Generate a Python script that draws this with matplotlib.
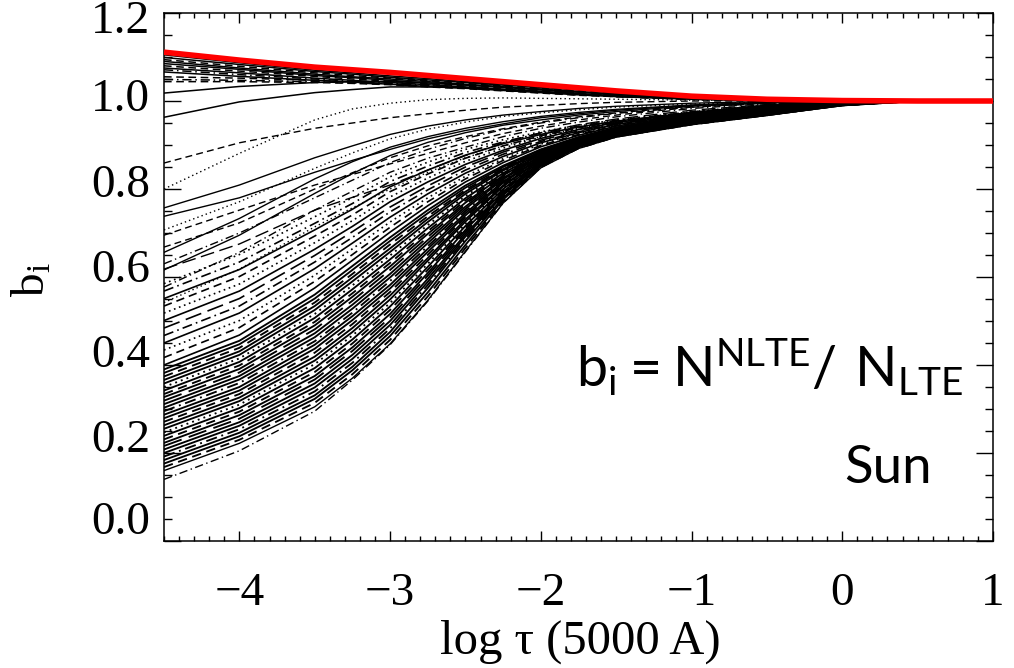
import matplotlib
matplotlib.use("Agg")
import matplotlib.pyplot as plt
from matplotlib.ticker import MultipleLocator

# ---------------- data ----------------
log_tau = [-4.5, -4.0, -3.5, -3.25, -3.0, -2.75, -2.5, -2.25, -2.0, -1.75, -1.5, -1.0, -0.5, 0.0, 0.5, 1.0]

red_curve = [1.111, 1.093, 1.077, 1.071, 1.065, 1.058, 1.051, 1.044, 1.037, 1.030, 1.023, 1.011, 1.004, 1.001, 1.000, 1.000]

top_group = [
    [1.105, 1.087, 1.070, 1.064, 1.057, 1.051, 1.044, 1.038, 1.032, 1.026, 1.020, 1.010, 1.004, 1.000, 1.000, 1.000],
    [1.099, 1.083, 1.067, 1.061, 1.054, 1.048, 1.042, 1.036, 1.031, 1.025, 1.019, 1.009, 1.003, 1.000, 1.000, 1.000],
    [1.094, 1.079, 1.064, 1.058, 1.052, 1.046, 1.040, 1.034, 1.029, 1.023, 1.017, 1.008, 1.003, 1.000, 1.000, 1.000],
    [1.090, 1.075, 1.061, 1.055, 1.050, 1.044, 1.038, 1.032, 1.027, 1.021, 1.016, 1.008, 1.002, 1.000, 1.000, 1.000],
    [1.085, 1.072, 1.058, 1.053, 1.047, 1.041, 1.036, 1.031, 1.025, 1.020, 1.015, 1.007, 1.002, 1.000, 1.000, 1.000],
    [1.080, 1.068, 1.056, 1.050, 1.045, 1.039, 1.034, 1.029, 1.024, 1.019, 1.014, 1.006, 1.002, 1.000, 1.000, 1.000],
    [1.075, 1.064, 1.052, 1.047, 1.042, 1.037, 1.032, 1.027, 1.022, 1.017, 1.012, 1.005, 1.001, 1.000, 1.000, 1.000],
    [1.071, 1.060, 1.050, 1.045, 1.040, 1.035, 1.031, 1.025, 1.020, 1.015, 1.011, 1.005, 1.001, 1.000, 1.000, 1.000],
    [1.066, 1.056, 1.047, 1.043, 1.038, 1.033, 1.029, 1.024, 1.019, 1.014, 1.010, 1.004, 1.001, 1.000, 1.000, 1.000],
    [1.055, 1.052, 1.047, 1.043, 1.039, 1.034, 1.030, 1.025, 1.020, 1.015, 1.010, 1.004, 1.001, 1.000, 1.000, 1.000],
    [1.049, 1.047, 1.044, 1.041, 1.038, 1.033, 1.029, 1.024, 1.019, 1.014, 1.010, 1.004, 1.001, 1.000, 1.000, 1.000],
    [1.044, 1.044, 1.042, 1.040, 1.037, 1.032, 1.028, 1.023, 1.018, 1.013, 1.010, 1.004, 1.001, 1.000, 1.000, 1.000],
    [1.018, 1.033, 1.042, 1.044, 1.044, 1.041, 1.037, 1.032, 1.027, 1.021, 1.015, 1.007, 1.002, 1.000, 1.000, 1.000],
    [0.963, 0.998, 1.019, 1.026, 1.032, 1.032, 1.030, 1.026, 1.021, 1.016, 1.011, 1.005, 1.001, 1.000, 1.000, 1.000],
]

mid_group = [
    [0.859, 0.905, 0.938, 0.950, 0.962, 0.971, 0.979, 0.986, 0.990, 0.994, 0.997, 1.000, 1.000, 1.000, 1.000, 1.000],
    [0.800, 0.881, 0.957, 0.982, 0.995, 1.003, 1.006, 1.007, 1.006, 1.005, 1.004, 1.002, 1.001, 1.000, 1.000, 1.000],
    [0.757, 0.809, 0.871, 0.898, 0.924, 0.943, 0.957, 0.968, 0.976, 0.983, 0.988, 0.995, 0.999, 1.000, 1.000, 1.000],
    [0.738, 0.780, 0.838, 0.865, 0.890, 0.914, 0.933, 0.948, 0.962, 0.971, 0.979, 0.990, 0.997, 1.000, 1.000, 1.000],
    [0.707, 0.771, 0.847, 0.882, 0.914, 0.936, 0.952, 0.965, 0.973, 0.980, 0.986, 0.993, 0.998, 1.000, 1.000, 1.000],
    [0.668, 0.723, 0.800, 0.837, 0.871, 0.898, 0.919, 0.937, 0.952, 0.964, 0.973, 0.988, 0.996, 1.000, 1.000, 1.000],
    [0.616, 0.695, 0.790, 0.835, 0.876, 0.906, 0.928, 0.945, 0.957, 0.968, 0.976, 0.989, 0.996, 1.000, 1.000, 1.000],
    [0.577, 0.656, 0.752, 0.795, 0.838, 0.870, 0.895, 0.919, 0.938, 0.952, 0.964, 0.983, 0.994, 1.000, 1.000, 1.000],
    [0.618, 0.675, 0.752, 0.781, 0.809, 0.843, 0.876, 0.905, 0.928, 0.946, 0.959, 0.979, 0.992, 1.000, 1.000, 1.000],
    [0.542, 0.618, 0.714, 0.757, 0.800, 0.838, 0.871, 0.898, 0.919, 0.938, 0.952, 0.976, 0.991, 1.000, 1.000, 1.000],
    [0.695, 0.752, 0.809, 0.833, 0.857, 0.881, 0.905, 0.926, 0.943, 0.957, 0.968, 0.986, 0.995, 1.000, 1.000, 1.000],
    [0.656, 0.733, 0.823, 0.862, 0.895, 0.919, 0.938, 0.953, 0.965, 0.974, 0.981, 0.991, 0.997, 1.000, 1.000, 1.000],
    [0.630, 0.700, 0.780, 0.820, 0.860, 0.890, 0.915, 0.935, 0.950, 0.962, 0.972, 0.986, 0.995, 1.000, 1.000, 1.000],
]

upper_core = [
    [0.400, 0.468, 0.575, 0.638, 0.702, 0.762, 0.816, 0.860, 0.896, 0.922, 0.943, 0.970, 0.988, 0.998, 1.000, 1.000],
    [0.417, 0.485, 0.590, 0.651, 0.713, 0.771, 0.823, 0.865, 0.899, 0.924, 0.944, 0.970, 0.988, 0.998, 1.000, 1.000],
    [0.434, 0.501, 0.604, 0.664, 0.725, 0.780, 0.829, 0.869, 0.902, 0.926, 0.946, 0.971, 0.988, 0.998, 1.000, 1.000],
    [0.450, 0.518, 0.619, 0.677, 0.736, 0.789, 0.836, 0.874, 0.905, 0.928, 0.947, 0.971, 0.989, 0.998, 1.000, 1.000],
    [0.467, 0.534, 0.634, 0.690, 0.748, 0.798, 0.843, 0.879, 0.908, 0.930, 0.948, 0.972, 0.989, 0.998, 1.000, 1.000],
    [0.484, 0.551, 0.649, 0.703, 0.759, 0.807, 0.850, 0.884, 0.911, 0.932, 0.949, 0.972, 0.989, 0.999, 1.000, 1.000],
    [0.501, 0.568, 0.663, 0.715, 0.771, 0.816, 0.856, 0.888, 0.915, 0.935, 0.951, 0.973, 0.989, 0.999, 1.000, 1.000],
    [0.518, 0.584, 0.678, 0.728, 0.782, 0.825, 0.863, 0.893, 0.918, 0.937, 0.952, 0.973, 0.989, 0.999, 1.000, 1.000],
    [0.534, 0.601, 0.693, 0.741, 0.794, 0.834, 0.870, 0.898, 0.921, 0.939, 0.953, 0.974, 0.989, 0.999, 1.000, 1.000],
    [0.551, 0.617, 0.707, 0.754, 0.805, 0.843, 0.877, 0.903, 0.924, 0.941, 0.954, 0.974, 0.990, 0.999, 1.000, 1.000],
    [0.568, 0.634, 0.722, 0.767, 0.817, 0.852, 0.883, 0.907, 0.927, 0.943, 0.956, 0.975, 0.990, 0.999, 1.000, 1.000],
    [0.585, 0.651, 0.737, 0.780, 0.828, 0.861, 0.890, 0.912, 0.930, 0.945, 0.957, 0.975, 0.990, 0.999, 1.000, 1.000],
]

core_group = [
    [0.140, 0.205, 0.295, 0.366, 0.446, 0.545, 0.657, 0.768, 0.849, 0.892, 0.918, 0.946, 0.967, 0.990, 1.000, 1.000],
    [0.160, 0.222, 0.305, 0.370, 0.448, 0.547, 0.659, 0.768, 0.848, 0.892, 0.918, 0.946, 0.967, 0.990, 1.000, 1.000],
    [0.168, 0.230, 0.314, 0.379, 0.457, 0.556, 0.666, 0.772, 0.850, 0.893, 0.919, 0.947, 0.968, 0.990, 1.000, 1.000],
    [0.176, 0.238, 0.323, 0.388, 0.466, 0.565, 0.673, 0.776, 0.852, 0.895, 0.920, 0.948, 0.968, 0.990, 1.000, 1.000],
    [0.184, 0.246, 0.331, 0.396, 0.475, 0.575, 0.682, 0.780, 0.854, 0.896, 0.920, 0.948, 0.969, 0.990, 1.000, 1.000],
    [0.192, 0.254, 0.340, 0.405, 0.483, 0.582, 0.687, 0.783, 0.856, 0.896, 0.921, 0.949, 0.970, 0.991, 1.000, 1.000],
    [0.200, 0.262, 0.349, 0.414, 0.491, 0.589, 0.692, 0.786, 0.857, 0.897, 0.922, 0.950, 0.970, 0.991, 1.000, 1.000],
    [0.208, 0.270, 0.358, 0.423, 0.500, 0.596, 0.697, 0.789, 0.858, 0.898, 0.923, 0.951, 0.971, 0.991, 1.000, 1.000],
    [0.216, 0.278, 0.367, 0.432, 0.508, 0.603, 0.702, 0.792, 0.860, 0.899, 0.923, 0.951, 0.972, 0.991, 1.000, 1.000],
    [0.223, 0.286, 0.375, 0.440, 0.516, 0.609, 0.707, 0.794, 0.861, 0.900, 0.924, 0.952, 0.973, 0.992, 1.000, 1.000],
    [0.231, 0.294, 0.384, 0.449, 0.525, 0.616, 0.711, 0.797, 0.862, 0.901, 0.925, 0.953, 0.973, 0.992, 1.000, 1.000],
    [0.239, 0.302, 0.393, 0.458, 0.533, 0.623, 0.716, 0.800, 0.864, 0.902, 0.926, 0.954, 0.974, 0.992, 1.000, 1.000],
    [0.247, 0.310, 0.402, 0.467, 0.541, 0.630, 0.721, 0.803, 0.865, 0.902, 0.926, 0.954, 0.975, 0.992, 1.000, 1.000],
    [0.255, 0.318, 0.410, 0.475, 0.549, 0.637, 0.726, 0.806, 0.867, 0.903, 0.927, 0.955, 0.975, 0.993, 1.000, 1.000],
    [0.263, 0.326, 0.419, 0.484, 0.558, 0.643, 0.731, 0.808, 0.868, 0.904, 0.928, 0.956, 0.976, 0.993, 1.000, 1.000],
    [0.271, 0.334, 0.428, 0.493, 0.566, 0.650, 0.736, 0.811, 0.869, 0.905, 0.929, 0.957, 0.977, 0.993, 1.000, 1.000],
    [0.279, 0.342, 0.437, 0.502, 0.574, 0.657, 0.740, 0.814, 0.871, 0.906, 0.929, 0.957, 0.977, 0.994, 1.000, 1.000],
    [0.287, 0.350, 0.446, 0.511, 0.582, 0.664, 0.745, 0.817, 0.872, 0.907, 0.930, 0.958, 0.978, 0.994, 1.000, 1.000],
    [0.295, 0.359, 0.454, 0.519, 0.591, 0.670, 0.750, 0.819, 0.873, 0.908, 0.931, 0.959, 0.979, 0.994, 1.000, 1.000],
    [0.303, 0.367, 0.463, 0.528, 0.599, 0.677, 0.755, 0.822, 0.875, 0.908, 0.932, 0.960, 0.979, 0.994, 1.000, 1.000],
    [0.311, 0.375, 0.472, 0.537, 0.607, 0.684, 0.760, 0.825, 0.876, 0.909, 0.932, 0.960, 0.980, 0.995, 1.000, 1.000],
    [0.319, 0.383, 0.481, 0.546, 0.616, 0.691, 0.765, 0.828, 0.878, 0.910, 0.933, 0.961, 0.981, 0.995, 1.000, 1.000],
    [0.327, 0.391, 0.490, 0.555, 0.624, 0.698, 0.769, 0.831, 0.879, 0.911, 0.934, 0.962, 0.981, 0.995, 1.000, 1.000],
    [0.334, 0.399, 0.498, 0.563, 0.632, 0.704, 0.774, 0.833, 0.880, 0.912, 0.935, 0.963, 0.982, 0.996, 1.000, 1.000],
    [0.342, 0.407, 0.507, 0.572, 0.640, 0.711, 0.779, 0.836, 0.882, 0.913, 0.935, 0.963, 0.983, 0.996, 1.000, 1.000],
    [0.350, 0.415, 0.516, 0.581, 0.649, 0.718, 0.784, 0.839, 0.883, 0.914, 0.936, 0.964, 0.984, 0.996, 1.000, 1.000],
    [0.358, 0.423, 0.525, 0.590, 0.657, 0.725, 0.789, 0.842, 0.884, 0.915, 0.937, 0.965, 0.984, 0.996, 1.000, 1.000],
    [0.366, 0.431, 0.534, 0.599, 0.665, 0.732, 0.794, 0.845, 0.886, 0.915, 0.938, 0.966, 0.985, 0.997, 1.000, 1.000],
    [0.374, 0.439, 0.542, 0.607, 0.674, 0.738, 0.798, 0.847, 0.887, 0.916, 0.938, 0.966, 0.986, 0.997, 1.000, 1.000],
    [0.382, 0.447, 0.551, 0.616, 0.682, 0.745, 0.803, 0.850, 0.889, 0.917, 0.939, 0.967, 0.986, 0.997, 1.000, 1.000],
    [0.390, 0.455, 0.560, 0.625, 0.690, 0.752, 0.808, 0.853, 0.890, 0.918, 0.940, 0.968, 0.987, 0.998, 1.000, 1.000],
]

x_ticks = [-4, -3, -2, -1, 0, 1]
y_ticks = [0.0, 0.2, 0.4, 0.6, 0.8, 1.0, 1.2]
y_tick_text = ["0.0", "0.2", "0.4", "0.6", "0.8", "1.0", "1.2"]

# ---------------- styling ----------------
plt.rcParams["font.family"] = ["Liberation Serif", "DejaVu Serif"]
plt.rcParams["mathtext.fontset"] = "custom"
plt.rcParams["mathtext.rm"] = "Liberation Serif"
plt.rcParams["mathtext.sf"] = "Lato"
plt.rcParams["axes.unicode_minus"] = True

DASH = (0, (5, 3))
DOT = (0, (1, 2.2))
DASHDOT = (0, (6, 2.5, 1, 2.5))
LONG = (0, (10, 4))
DASH3DOT = (0, (6, 2.5, 1, 2.5, 1, 2.5))
core_styles = ["-", "-", DASH, "-", "-", DASHDOT, "-", "-", LONG, "-", DASH, "-", DOT]
upper_styles = ["-", DASH, DOT, "-", DASHDOT, LONG, "-", DOT, DASH, "-", DASHDOT, DOT]
mid_styles = [DASH, DOT, "-", "-", DOT, DASH, "-", DASHDOT, LONG, DOT, DASH, "-", DASHDOT]
top_styles = ["-", "-", DASH, "-", "-", DASH, "-", DASHDOT, "-", DASH, DASHDOT, DASH, "-", "-"]

W, H = 1014, 668
fig = plt.figure(figsize=(W / 100, H / 100), dpi=100)
L, R, T, B = 164, 993, 13, 541
ax = fig.add_axes([L / W, (H - B) / H, (R - L) / W, (B - T) / H])

for i, yv in enumerate(core_group):
    ls = DASHDOT if i == 0 else core_styles[i % len(core_styles)]
    lw_i = 1.0 if i <= 1 else 1.35
    ax.plot(log_tau, yv, color="black", lw=lw_i, linestyle=ls, zorder=2)
for group, styles, lw_g in [(upper_core, upper_styles, 1.2), (mid_group, mid_styles, 1.0),
                            (top_group, top_styles, 1.1)]:
    for i, yv in enumerate(group):
        ax.plot(log_tau, yv, color="black", lw=lw_g, linestyle=styles[i % len(styles)], zorder=2)

ax.plot(log_tau, red_curve, color="#ff0000", lw=4.0, zorder=5, solid_capstyle="butt")

ax.set_xlim(-4.5, 1.0)
ax.set_ylim(0.0, 1.2)
ax.set_xticks(x_ticks)
ax.set_yticks(y_ticks)
ax.set_yticklabels([])
ax.xaxis.set_minor_locator(MultipleLocator(0.1))
ax.yaxis.set_minor_locator(MultipleLocator(0.05))
ax.tick_params(which="both", direction="in", top=True, right=True, width=1.0)
ax.tick_params(axis="x", which="major", length=7.5, labelsize=34, pad=23)
ax.tick_params(axis="x", which="minor", length=3.6)
ax.tick_params(axis="y", which="major", length=12)
ax.tick_params(axis="y", which="minor", length=6)
for s in ax.spines.values():
    s.set_linewidth(1.1)

# y tick labels as in the reference (end labels kept inside the frame)
label_rows = [523, 441, 356, 271, 186, 100, 22]
for txt, py in zip(y_tick_text, label_rows):
    fig.text(150 / W, 1 - py / H, txt, fontsize=34, ha="right", va="center")

fig.text(580 / W, 1 - 642 / H, "log \u03c4 (5000 A)", fontsize=35, ha="center", va="center")
fig.text(33 / W, 1 - 280 / H, r"$\mathrm{b_i}$", fontsize=34, rotation=90, ha="center", va="center")

fig.text(963 / W, 1 - 386 / H, r"$\mathsf{b_i = N^{NLTE}/\ N_{LTE}}$", fontsize=40,
         ha="right", va="baseline")
fig.text(932 / W, 1 - 483 / H, "Sun", fontsize=38, family="Lato", ha="right", va="baseline")

fig.savefig("out.png", dpi=100)
